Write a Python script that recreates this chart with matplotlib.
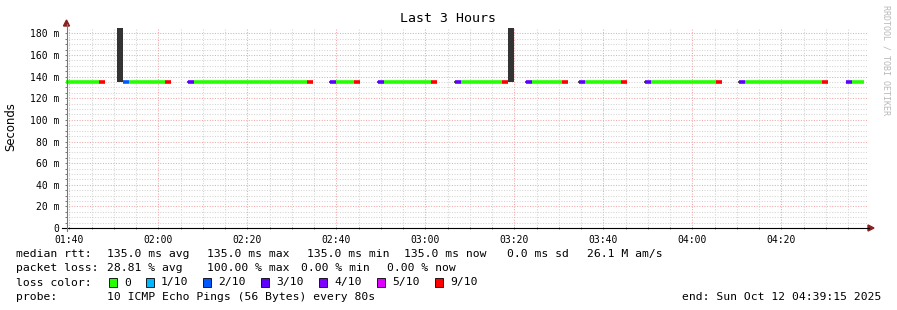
import numpy as np
import matplotlib.pyplot as plt
from matplotlib.patches import Polygon, Rectangle
from matplotlib.lines import Line2D

# time axis: minutes after 01:40 (graph covers 01:39:15 - 04:39:15)
seg_start = [-0.75, 6.74, 12.13, 13.48, 21.57, 26.74, 28.09, 53.48, 58.65, 60.0, 64.04,
             69.44, 70.79, 81.35, 86.74, 88.09, 97.30, 102.70, 104.04, 110.79, 114.61,
             115.96, 124.04, 129.44, 130.79, 145.39, 150.56, 151.91, 169.21, 174.61, 175.96]
seg_end = [6.74, 8.09, 13.48, 21.57, 22.92, 28.09, 53.48, 54.83, 60.0, 64.04, 65.39,
           70.79, 81.35, 82.70, 88.09, 97.30, 98.65, 104.04, 110.79, 112.13, 115.96,
           124.04, 125.39, 130.79, 145.39, 146.74, 151.91, 169.21, 170.56, 175.96, 178.65]
seg_loss = [0, 9, 2, 0, 9, 3, 0, 9, 3, 0, 9, 3, 0, 9, 3, 0, 9, 3, 0, 9, 3, 0, 9, 3, 0, 9,
            3, 0, 9, 3, 0]
median_rtt = 135.0

smoke_start = [10.79, 98.65]
smoke_end = [12.13, 100.0]
smoke_top = [200, 200]
smoke_tick = [26.52, 58.43, 69.21, 86.52, 102.47, 114.38, 129.21, 150.34, 174.61]

loss_levels = [0, 1, 2, 3, 4, 5, 9]
loss_labels = ['0', '1/10', '2/10', '3/10', '4/10', '5/10', '9/10']
loss_colors = ['#26ff00', '#00b8ff', '#0059ff', '#5e00ff', '#7e00ff', '#dd00ff', '#ff0000']

x_ticks = [0, 20, 40, 60, 80, 100, 120, 140, 160]
x_labels = ['01:40', '02:00', '02:20', '02:40', '03:00', '03:20', '03:40', '04:00', '04:20']
y_ticks = [0, 20, 40, 60, 80, 100, 120, 140, 160, 180]
y_labels = ['0'] + ['%d m' % v for v in y_ticks[1:]]

W, H = 897, 310
mono = 'DejaVu Sans Mono'


def fx(x):
    return x / W


def fy(y):
    return 1 - y / H


fig = plt.figure(figsize=(W / 100, H / 100), dpi=100)
fig.patch.set_facecolor('white')
ax = fig.add_axes([fx(66), fy(228), 801 / W, 200 / H])
ax.set_xlim(-0.75, 179.25)
ax.set_ylim(0, 185)

# grid
for v in np.arange(5, 185, 5):
    c = '#f0a8a8' if v % 20 == 0 else '#d4d4d4'
    ax.axhline(v, color=c, lw=0.75, ls=(0, (1, 1.5)), zorder=0)
for v in np.arange(0, 180, 5):
    c = '#f0a8a8' if v % 20 == 0 else '#d4d4d4'
    ax.axvline(v, color=c, lw=0.75, ls=(0, (1, 1.5)), zorder=0)

# smoke
for s, e, t in zip(smoke_start, smoke_end, smoke_top):
    ax.fill_between([s, e], median_rtt, t, color='#333333', lw=0, zorder=2)
for s in smoke_tick:
    ax.hlines(median_rtt, s, s + 0.25, colors='#333333', lw=1.2, zorder=2)

# median line coloured by loss
cmap = dict(zip(loss_levels, loss_colors))
ax.hlines([median_rtt] * len(seg_start), seg_start, seg_end,
          colors=[cmap[l] for l in seg_loss], lw=2.6, capstyle='butt', zorder=3)

for s in ax.spines.values():
    s.set_visible(False)
ax.set_xticks(x_ticks)
ax.set_xticklabels(x_labels, family=mono, fontsize=7)
ax.set_yticks(y_ticks)
ax.set_yticklabels(y_labels, family=mono, fontsize=7)
ax.set_xticks(np.arange(0, 180, 5), minor=True)
ax.set_yticks(np.arange(0, 185, 5), minor=True)
ax.tick_params(which='both', length=2, width=0.7, color='#777777', direction='inout', pad=4)

# axis lines and arrows
fig.add_artist(Line2D([fx(62), fx(869)], [fy(228), fy(228)], color='black', lw=0.8))
fig.add_artist(Line2D([fx(66.5), fx(66.5)], [fy(231), fy(24)], color='#777777', lw=0.8))
fig.add_artist(Polygon([[fx(63.5), fy(26)], [fx(69.5), fy(26)], [fx(66.5), fy(20)]],
                       closed=True, color='#8b2020', transform=fig.transFigure))
fig.add_artist(Polygon([[fx(868), fy(225)], [fx(868), fy(231)], [fx(874), fy(228)]],
                       closed=True, color='#8b2020', transform=fig.transFigure))

fig.text(fx(448), fy(19), 'Last 3 Hours', ha='center', va='center', fontsize=9.5, family=mono)
fig.text(fx(11), fy(127), 'Seconds', ha='center', va='center', rotation=90, fontsize=8.4)
fig.text(fx(886), fy(5), 'RRDTOOL / TOBI OETIKER', ha='center', va='top', rotation=270,
         fontsize=6, color='#b8b8b8', family=mono)

# legend
fs = 8.2
rows = [
    (254, [(16, 'median rtt:'), (107, '135.0 ms avg'), (207, '135.0 ms max'),
           (307, '135.0 ms min'), (404, '135.0 ms now'), (507, '0.0 ms sd'),
           (587, '26.1 M am/s')]),
    (268, [(16, 'packet loss:'), (107, '28.81 % avg'), (207, '100.00 % max'),
           (301, '0.00 % min'), (387, '0.00 % now')]),
    (282.5, [(16, 'loss color:')]),
    (296.5, [(16, 'probe:'), (107, '10 ICMP Echo Pings (56 Bytes) every 80s')]),
]
for y, items in rows:
    for x, t in items:
        fig.text(fx(x), fy(y), t, ha='left', va='center', fontsize=fs, family=mono)

sq_x = [109, 146, 203, 261, 319, 377, 435]
for x, lab, col in zip(sq_x, loss_labels, loss_colors):
    fig.add_artist(Rectangle((fx(x), fy(287)), 8 / W, 9 / H, facecolor=col,
                             edgecolor='black', lw=0.6, transform=fig.transFigure))
    fig.text(fx(x + 15), fy(282.5), lab, ha='left', va='center', fontsize=fs, family=mono)

fig.text(fx(881), fy(296.5), 'end: Sun Oct 12 04:39:15 2025', ha='right', va='center',
         fontsize=fs, family=mono)

fig.savefig('out.png', dpi=100)
